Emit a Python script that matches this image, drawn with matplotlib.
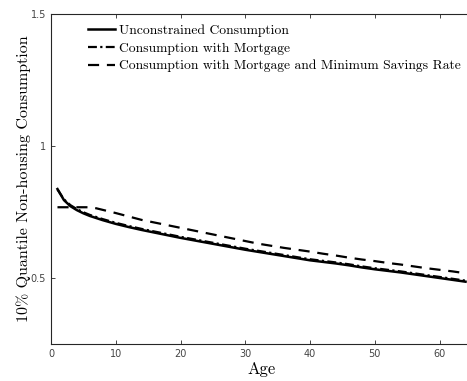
import matplotlib
matplotlib.use('Agg')
import matplotlib.pyplot as plt

# ages sampled along the life cycle
ages = [1, 2, 3, 4, 5, 6, 7, 8, 10, 12, 14, 16, 18, 20, 22, 24, 26, 28, 30,
        32, 34, 36, 38, 40, 42, 44, 46, 48, 50, 52, 54, 56, 58, 60, 62, 64]

unconstrained = [0.837, 0.795, 0.772, 0.757, 0.745, 0.735, 0.727, 0.719, 0.705,
                 0.693, 0.682, 0.672, 0.662, 0.652, 0.643, 0.634, 0.625, 0.616,
                 0.607, 0.599, 0.591, 0.583, 0.575, 0.567, 0.561, 0.555, 0.548,
                 0.540, 0.533, 0.527, 0.521, 0.514, 0.507, 0.500, 0.493, 0.486]

mortgage = [0.835, 0.798, 0.776, 0.761, 0.749, 0.739, 0.731, 0.723, 0.709,
            0.697, 0.686, 0.676, 0.666, 0.656, 0.647, 0.638, 0.629, 0.620,
            0.611, 0.603, 0.595, 0.587, 0.579, 0.571, 0.565, 0.559, 0.552,
            0.544, 0.537, 0.531, 0.525, 0.518, 0.511, 0.504, 0.497, 0.490]

min_savings = [0.768, 0.768, 0.768, 0.768, 0.768, 0.768, 0.764, 0.758, 0.746,
               0.733, 0.720, 0.710, 0.700, 0.690, 0.680, 0.670, 0.660, 0.650,
               0.640, 0.630, 0.622, 0.614, 0.607, 0.600, 0.592, 0.585, 0.577,
               0.570, 0.564, 0.557, 0.551, 0.544, 0.537, 0.531, 0.525, 0.518]

labels = ['Unconstrained Consumption',
          'Consumption with Mortgage',
          'Consumption with Mortgage and Minimum Savings Rate']

W, H = 467, 381
fig = plt.figure(figsize=(W / 100, H / 100), dpi=100)
ax = fig.add_axes([51 / W, 37 / H, 421 / W, 330 / H])

ax.plot(ages, unconstrained, color='k', lw=1.8, ls='-', label=labels[0])
ax.plot(ages, mortgage, color='k', lw=1.6, ls=(0, (4, 1.5, 1, 1.5)), label=labels[1])
ax.plot(ages, min_savings, color='k', lw=1.6, ls=(0, (5, 3.5)), label=labels[2])

ax.set_xlim(0, 65)
ax.set_ylim(0.25, 1.5)
ax.set_xticks([0, 10, 20, 30, 40, 50, 60])
ax.set_yticks([0.5, 1, 1.5])
ax.set_yticklabels(['0.5', '1', '1.5'])

ax.tick_params(direction='in', top=True, right=True, labelsize=7,
               colors='#262626', labelcolor='#444444', length=3, width=0.6)
for s in ax.spines.values():
    s.set_color('#262626')
    s.set_linewidth(0.8)

ax.set_xlabel('Age', family='cmr10', fontsize=12, labelpad=2)
ax.set_ylabel('10% Quantile Non-housing Consumption', family='cmr10', fontsize=11.5, labelpad=0)

leg = ax.legend(loc='upper left', bbox_to_anchor=(0.075, 0.985), frameon=False,
                prop={'family': 'cmr10', 'size': 9.8}, handlelength=2.0,
                handletextpad=0.3, labelspacing=0.38, borderaxespad=0)

fig.savefig('out.png', dpi=100)
